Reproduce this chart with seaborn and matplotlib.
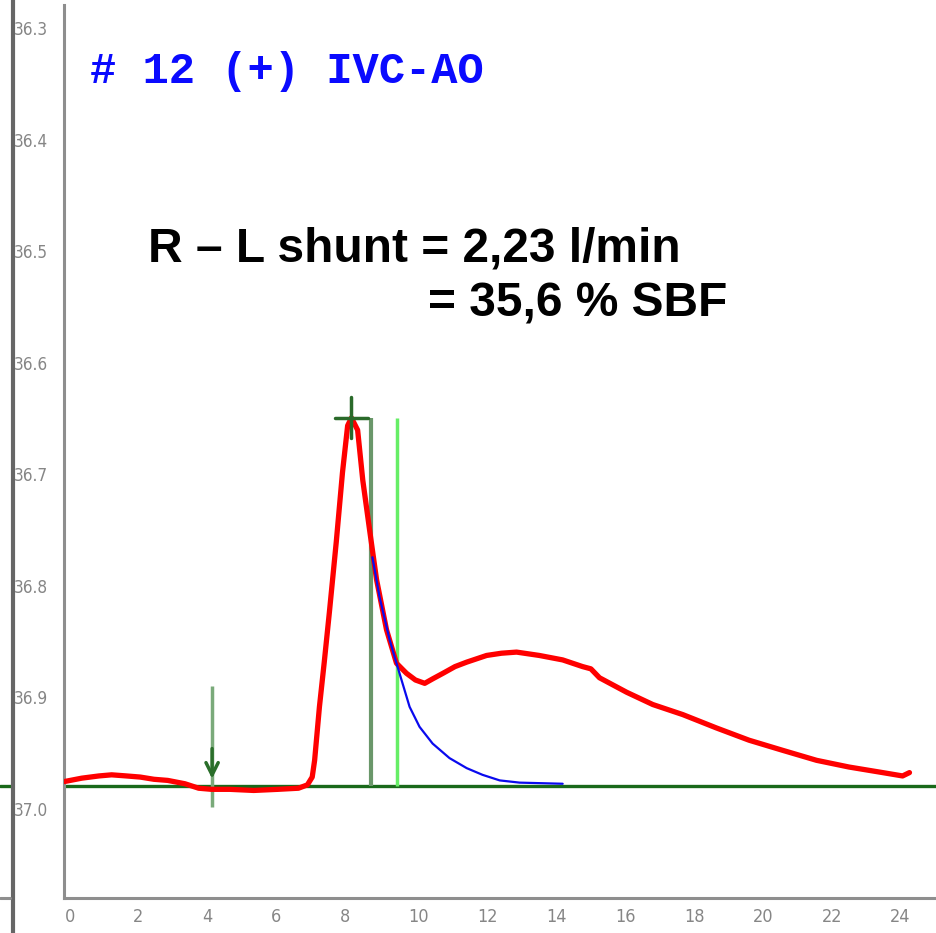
import matplotlib
matplotlib.use("Agg")
import matplotlib.pyplot as plt
from matplotlib.lines import Line2D
from matplotlib.transforms import ScaledTranslation
import seaborn as sns
import pandas as pd

# ---- data ----
red_time = [0, 0.5, 1.0, 1.37, 1.8, 2.2, 2.6, 3.0, 3.5, 3.9, 4.27, 4.8, 5.5, 6.2, 6.8,
            7.06, 7.2, 7.27, 7.41, 7.55, 7.7, 7.9, 8.08, 8.23, 8.34, 8.52, 8.67, 8.87,
            9.07, 9.36, 9.65, 9.94, 10.2, 10.47, 10.7, 11.0, 11.35, 11.69, 12.27, 12.7,
            13.14, 13.8, 14.48, 15.06, 15.3, 15.55, 16.34, 17.1, 17.97, 18.95, 19.9, 20.87,
            21.86, 22.8, 23.78, 24.36, 24.56]
red_temp = [36.987, 36.984, 36.982, 36.981, 36.982, 36.983, 36.985, 36.986, 36.989,
            36.993, 36.994, 36.994, 36.995, 36.994, 36.993, 36.990, 36.983, 36.968,
            36.920, 36.880, 36.835, 36.772, 36.710, 36.668, 36.661, 36.672, 36.717,
            36.762, 36.806, 36.851, 36.881, 36.890, 36.896, 36.899, 36.895, 36.890,
            36.884, 36.880, 36.874, 36.872, 36.871, 36.874, 36.878, 36.884, 36.886, 36.894,
            36.907, 36.918, 36.927, 36.939, 36.950, 36.959, 36.968, 36.974, 36.979,
            36.982, 36.979]

fit_time = [8.95, 9.16, 9.45, 9.65, 10.03, 10.32, 10.7, 11.19, 11.69, 12.15, 12.65, 13.23, 14.48]
fit_temp = [36.786, 36.822, 36.860, 36.881, 36.920, 36.938, 36.953, 36.966, 36.975,
            36.981, 36.986, 36.988, 36.989]

baseline = 36.991
peak_time, peak_temp = 8.33, 36.661
cut1_time, cut2_time = 8.92, 9.65
inject_time = 4.29

x_ticks = list(range(0, 25, 2))
y_ticks = [36.3, 36.4, 36.5, 36.6, 36.7, 36.8, 36.9, 37.0]
y_labels = ["36.3", "36.4", "36.5", "36.6", "36.7", "36.8", "36.9", "37.0"]

title = "# 12 (+) IVC-AO"
line1 = "R \u2013 L shunt = 2,23 l/min"
line2 = "= 35,6 % SBF"

# ---- drawing ----
sns.set_theme(style="white")
plt.rcParams["font.family"] = ["Liberation Sans", "DejaVu Sans"]

W, H = 937, 933
fig = plt.figure(figsize=(W / 100, H / 100), dpi=100)
ax = fig.add_axes([64.5 / W, 1 - 898 / H, 1 - 64.5 / W, (898 - 5) / H])

axis_gray = "#8e8e8e"

red_df = pd.DataFrame({"t": red_time, "T": red_temp})
fit_df = pd.DataFrame({"t": fit_time, "T": fit_temp})

# baseline
xl = (0, 25.36)
ax.plot([xl[0], xl[1]], [baseline, baseline], color="#19691a", lw=2.4, zorder=2)
ax.plot([-64.5 / 34.4, -53.5 / 34.4], [baseline, baseline], color="#19691a", lw=2.4,
        clip_on=False, zorder=2)

# vertical cut lines
ax.vlines(cut1_time, peak_temp, baseline, color="#6a976a", lw=3, zorder=3)
ax.vlines(cut2_time, peak_temp, baseline, color="#66ee66", lw=2.5, zorder=3)

# injection arrow
ax.vlines(inject_time, 36.901, 37.010, color="#7aaa7a", lw=2.5, zorder=3)
ax.annotate("", xy=(inject_time, baseline - 0.004), xytext=(inject_time, 36.955),
            arrowprops=dict(arrowstyle="->", color="#2a6e2a", lw=2.5, mutation_scale=22),
            zorder=4)

sns.lineplot(data=red_df, x="t", y="T", ax=ax, color="#ff0000", lw=3.8, sort=False,
             estimator=None, zorder=5)
sns.lineplot(data=fit_df, x="t", y="T", ax=ax, color="#0a0aee", lw=1.6, sort=False,
             estimator=None, zorder=6)

# peak cross
ax.plot([7.86, 8.82], [peak_temp, peak_temp], color="#2a6a2a", lw=2.5, zorder=7)
ax.plot([peak_time, peak_time], [36.642, 36.679], color="#2a6a2a", lw=2.5, zorder=7)

ax.set_xlim(*xl)
ax.set_ylim(37.0914, 36.291)
ax.set_xlabel("")
ax.set_ylabel("")

for s in ["top", "right"]:
    ax.spines[s].set_visible(False)
for s in ["left", "bottom"]:
    ax.spines[s].set_color(axis_gray)
    ax.spines[s].set_linewidth(2.2)

tick_font = ["DejaVu Sans"]
ax.set_xticks(x_ticks)
ax.set_xticklabels([str(v) for v in x_ticks], family=tick_font, fontstretch="condensed",
                   fontsize=13, color="#868686")
ax.set_yticks(y_ticks)
ax.set_yticklabels(y_labels, family=tick_font, fontstretch="condensed",
                   fontsize=12.3, color="#868686")
ax.tick_params(axis="both", direction="inout", length=8, width=1.6, color=axis_gray)
ax.tick_params(axis="y", pad=8.0)
ax.tick_params(axis="x", pad=3)
for lbl in ax.get_xticklabels():
    lbl.set_ha("left")
for lbl in ax.get_yticklabels():
    lbl.set_va("top")
    lbl.set_transform(lbl.get_transform() + ScaledTranslation(0, -6 / 100, fig.dpi_scale_trans))

# outer frame pieces
fig.add_artist(Line2D([13 / W, 13 / W], [0, 1], transform=fig.transFigure,
                      color="#666666", lw=3))
fig.add_artist(Line2D([0, 10 / W], [1 - 898 / H, 1 - 898 / H], transform=fig.transFigure,
                      color=axis_gray, lw=2.2))

# texts
fig.text(90 / W, 1 - 83 / H, title, family=["Liberation Mono", "DejaVu Sans Mono"],
         fontsize=31.5, weight="bold", color="#0a0aff", va="baseline", ha="left")
fig.text(148 / W, 1 - 262 / H, line1, fontsize=34.5, weight="bold", color="black",
         va="baseline", ha="left")
fig.text(428 / W, 1 - 316 / H, line2, fontsize=34.5, weight="bold", color="black",
         va="baseline", ha="left")

fig.savefig("out.png", dpi=100)
